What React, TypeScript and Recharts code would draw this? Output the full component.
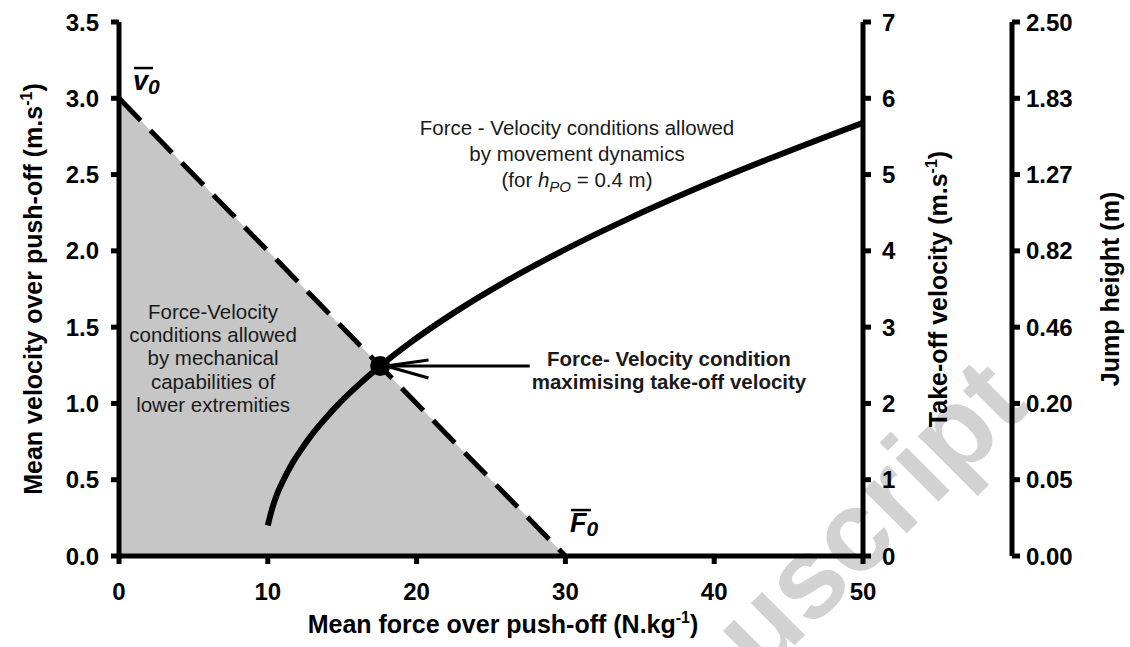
import React from 'react';
import {
  ComposedChart, XAxis, YAxis, Line, Area,
  ReferenceDot, ReferenceLine,
} from 'recharts';

const FONT = '"Liberation Sans", Arial, sans-serif';

// axes
const FORCE_TICKS = [0, 10, 20, 30, 40, 50];
const VEL_TICKS = [0, 0.5, 1, 1.5, 2, 2.5, 3, 3.5];
const TAKEOFF_TICKS = [0, 1, 2, 3, 4, 5, 6, 7];
const HEIGHT_LABELS = ['0.00', '0.05', '0.20', '0.46', '0.82', '1.27', '1.83', '2.50'];

// mechanical capabilities: linear F-v from V0 to F0
const MECH_FORCE = [0, 30];
const MECH_VEL = [3.0, 0];

// movement dynamics curve (hPO = 0.4 m)
const DYN_FORCE = [10.0, 10.26, 10.6, 11.06, 11.6, 12.26, 13.0, 13.86, 14.8, 15.86, 17.55, 19.6, 22.6, 26.0, 29.8, 34.0, 38.6, 43.6, 50.0];
const DYN_VEL = [0.2, 0.3, 0.4, 0.5, 0.6, 0.7, 0.8, 0.9, 1.0, 1.1, 1.245, 1.4, 1.6, 1.8, 2.0, 2.2, 2.4, 2.6, 2.84];

// optimal point + arrow
const OPT_FORCE = 17.55;
const OPT_VEL = 1.245;
const ARROW_FROM = 27.6;
const ARROW_TIP = 17.95;
const ARROW_BACK = 20.8;

const mechData = MECH_FORCE.map((f, i) => ({ force: f, vel: MECH_VEL[i] }));
const dynData = DYN_FORCE.map((f, i) => ({ force: f, vel: DYN_VEL[i] }));

const tickStyle = { fontSize: 24, fontWeight: 700, fill: '#000', fontFamily: FONT };
const lineStyle = { stroke: '#000', strokeWidth: 5 };

const center = (vb: any) => ({ cx: vb.x + vb.width / 2, cy: vb.y + vb.height / 2 });

// multi-line centred note, first line centred on the anchor
const note = (lines: React.ReactNode[], gap: number, bold = false) => (p: any) => {
  const { cx, cy } = center(p.viewBox);
  return (
    <text textAnchor="middle" fontFamily={FONT} fontSize={20.5}
      fontWeight={bold ? 700 : 400} fill="#1a1a1a">
      {lines.map((l, i) => (
        <tspan key={i} x={cx} y={cy + 7 + i * gap}>{l}</tspan>
      ))}
    </text>
  );
};

// italic symbol with a bar over it and a subscript 0
const barred = (sym: string, barW: number) => (p: any) => {
  const { cx, cy } = center(p.viewBox);
  return (
    <g>
      <line x1={cx + 1} x2={cx + 1 + barW} y1={cy - 22} y2={cy - 22} stroke="#000" strokeWidth={2.5} />
      <text x={cx} y={cy} fontFamily={FONT} fontWeight={700} fontStyle="italic" fontSize={27} fill="#000">
        {sym}
        <tspan fontSize={21} dy={4}>0</tspan>
      </text>
    </g>
  );
};

const yTitle = (main: string, dx: number) => (p: any) => {
  const vb = p.viewBox;
  const x = vb.x + dx;
  const y = vb.y + vb.height / 2;
  return (
    <text x={x} y={y} transform={`rotate(-90, ${x}, ${y})`} textAnchor="middle"
      fontFamily={FONT} fontWeight={700} fontSize={25} fill="#000">
      {main}
      {main.endsWith('(m.s') ? (
        <>
          <tspan fontSize={16} dy={-10}>-1</tspan>
          <tspan dy={10}>)</tspan>
        </>
      ) : null}
    </text>
  );
};

const xTitle = (p: any) => {
  const vb = p.viewBox;
  return (
    <text x={vb.x + vb.width / 2 + 12} y={vb.y + 77} textAnchor="middle"
      fontFamily={FONT} fontWeight={700} fontSize={25} fill="#000">
      Mean force over push-off (N.kg
      <tspan fontSize={16} dy={-10}>-1</tspan>
      <tspan dy={10}>)</tspan>
    </text>
  );
};

export default function App() {
  return (
    <div style={{ position: 'absolute', left: 0, top: 0, width: 1130, height: 647, background: '#fff', overflow: 'hidden' }}>
      <svg width={1130} height={647} style={{ position: 'absolute', left: 0, top: 0 }}>
        <text transform="translate(1032,408) rotate(-45)" textAnchor="end"
          fontFamily={FONT} fontWeight={700} fontSize={115} fill="#d2d2d2">
          Accepted Manuscript
        </text>
      </svg>
      <div style={{ position: 'absolute', left: 0, top: 0 }}>
        <ComposedChart width={1130} height={647}
          margin={{ top: 22, right: 0, bottom: 0, left: 0 }}
          style={{ fontFamily: FONT }}>
          <XAxis type="number" dataKey="force" domain={[0, 50]} ticks={FORCE_TICKS}
            height={91} tick={tickStyle} tickSize={8} tickMargin={19}
            axisLine={lineStyle} tickLine={lineStyle} allowDataOverflow
            label={{ content: xTitle }} />
          <YAxis yAxisId="v" orientation="left" type="number" domain={[0, 3.5]} ticks={VEL_TICKS}
            width={119} tick={tickStyle} tickSize={8} tickMargin={12}
            tickFormatter={(v: number) => v.toFixed(1)}
            axisLine={lineStyle} tickLine={lineStyle} allowDataOverflow
            label={{ content: yTitle('Mean velocity over push-off (m.s', 42) }} />
          <YAxis yAxisId="r1" orientation="right" type="number" domain={[0, 7]} ticks={TAKEOFF_TICKS}
            width={149} tick={tickStyle} tickSize={8} tickMargin={11}
            axisLine={lineStyle} tickLine={lineStyle} allowDataOverflow
            label={{ content: yTitle('Take-off velocity (m.s', 84) }} />
          <YAxis yAxisId="r2" orientation="right" type="number" domain={[0, 7]} ticks={TAKEOFF_TICKS}
            width={118} tick={tickStyle} tickSize={8} tickMargin={6}
            tickFormatter={(v: number) => HEIGHT_LABELS[TAKEOFF_TICKS.indexOf(v)]}
            axisLine={lineStyle} tickLine={lineStyle} allowDataOverflow
            label={{ content: yTitle('Jump height (m)', 107) }} />

          <Area yAxisId="v" data={mechData} dataKey="vel" type="linear"
            fill="#c6c6c6" fillOpacity={1} stroke="none" isAnimationActive={false} />
          <Line yAxisId="v" data={mechData} dataKey="vel" type="linear"
            stroke="#000" strokeWidth={5} strokeDasharray="31 14" dot={false}
            isAnimationActive={false} />
          <Line yAxisId="v" data={dynData} dataKey="vel" type="monotone"
            stroke="#000" strokeWidth={6} dot={false} isAnimationActive={false} />

          <ReferenceLine yAxisId="v" segment={[{ x: ARROW_FROM, y: OPT_VEL }, { x: ARROW_TIP, y: OPT_VEL }]}
            stroke="#000" strokeWidth={3} />
          <ReferenceLine yAxisId="v" segment={[{ x: ARROW_BACK, y: 1.285 }, { x: ARROW_TIP, y: OPT_VEL }]}
            stroke="#000" strokeWidth={3} />
          <ReferenceLine yAxisId="v" segment={[{ x: ARROW_BACK, y: 1.167 }, { x: ARROW_TIP, y: OPT_VEL }]}
            stroke="#000" strokeWidth={3} />
          <ReferenceDot yAxisId="v" x={OPT_FORCE} y={OPT_VEL} r={10} fill="#000" stroke="none" />

          <ReferenceDot yAxisId="v" x={6.32} y={1.6} r={0} fill="none" stroke="none"
            label={{ content: note(['Force-Velocity', 'conditions allowed', 'by mechanical', 'capabilities of', 'lower extremities'], 23.3) }} />
          <ReferenceDot yAxisId="v" x={30.78} y={2.805} r={0} fill="none" stroke="none"
            label={{
              content: note([
                'Force - Velocity conditions allowed',
                'by movement dynamics',
                <>(for <tspan fontStyle="italic">h</tspan><tspan fontStyle="italic" fontSize={15} dy={5}>PO</tspan><tspan dy={-5}>{'  = 0.4 m)'}</tspan></>,
              ], 26),
            }} />
          <ReferenceDot yAxisId="v" x={36.96} y={1.291} r={0} fill="none" stroke="none"
            label={{ content: note(['Force- Velocity condition', 'maximising take-off velocity'], 23, true) }} />
          <ReferenceDot yAxisId="v" x={0.94} y={3.054} r={0} fill="none" stroke="none"
            label={{ content: barred('v', 19) }} />
          <ReferenceDot yAxisId="v" x={30.31} y={0.157} r={0} fill="none" stroke="none"
            label={{ content: barred('F', 20) }} />
        </ComposedChart>
      </div>
    </div>
  );
}
